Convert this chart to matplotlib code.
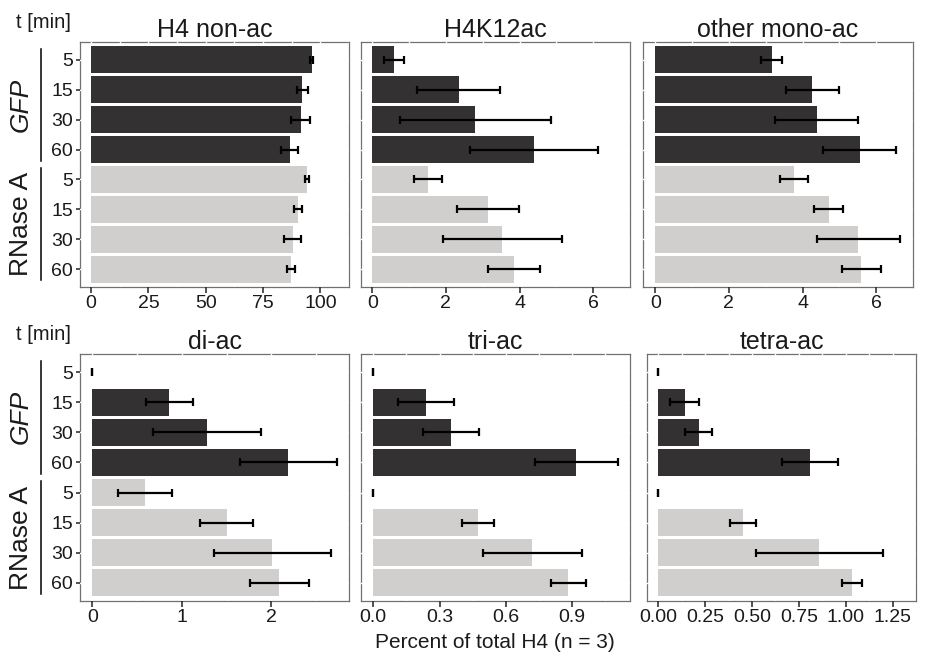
import matplotlib
matplotlib.use("Agg")
import matplotlib.pyplot as plt
import numpy as np

plt.rcParams['font.family'] = ['Liberation Sans', 'DejaVu Sans']

# time points per treatment, top to bottom
times = ["5", "15", "30", "60"]
groups = ["GFP", "RNase A"]

panels = ["H4 non-ac", "H4K12ac", "other mono-ac", "di-ac", "tri-ac", "tetra-ac"]

# mean percent of total H4 (GFP 5,15,30,60 then RNase A 5,15,30,60)
h4_nonac_mean = [96.2, 92.2, 91.4, 86.7, 94.2, 90.2, 87.9, 87.1]
h4_nonac_sd = [0.7, 2.6, 4.0, 3.7, 1.0, 1.8, 3.7, 1.7]
h4k12ac_mean = [0.59, 2.35, 2.80, 4.40, 1.50, 3.15, 3.53, 3.85]
h4k12ac_sd = [0.28, 1.13, 2.05, 1.74, 0.38, 0.84, 1.62, 0.70]
mono_mean = [3.16, 4.27, 4.38, 5.55, 3.78, 4.71, 5.52, 5.60]
mono_sd = [0.29, 0.73, 1.14, 1.00, 0.38, 0.40, 1.12, 0.53]
diac_mean = [0.0, 0.86, 1.28, 2.19, 0.59, 1.50, 2.01, 2.09]
diac_sd = [0.0, 0.26, 0.60, 0.54, 0.30, 0.30, 0.65, 0.33]
triac_mean = [0.0, 0.238, 0.352, 0.919, 0.0, 0.472, 0.720, 0.883]
triac_sd = [0.0, 0.128, 0.125, 0.187, 0.0, 0.072, 0.223, 0.080]
tetra_mean = [0.0, 0.142, 0.215, 0.810, 0.0, 0.454, 0.859, 1.033]
tetra_sd = [0.0, 0.077, 0.072, 0.148, 0.0, 0.070, 0.340, 0.052]

means = [h4_nonac_mean, h4k12ac_mean, mono_mean, diac_mean, triac_mean, tetra_mean]
sds = [h4_nonac_sd, h4k12ac_sd, mono_sd, diac_sd, triac_sd, tetra_sd]

x_ticks = [
    [0, 25, 50, 75, 100],
    [0, 2, 4, 6],
    [0, 2, 4, 6],
    [0, 1, 2],
    [0.0, 0.3, 0.6, 0.9],
    [0.0, 0.25, 0.5, 0.75, 1.0, 1.25],
]
x_ticklabels = [
    ["0", "25", "50", "75", "100"],
    ["0", "2", "4", "6"],
    ["0", "2", "4", "6"],
    ["0", "1", "2"],
    ["0.0", "0.3", "0.6", "0.9"],
    ["0.00", "0.25", "0.50", "0.75", "1.00", "1.25"],
]

dark = "#333131"
light = "#d1cfce"
colors = [dark] * 4 + [light] * 4
txt = "#1a1a1a"

W, H = 939, 655
fig = plt.figure(figsize=(W / 100, H / 100), dpi=100)

# panel boxes in pixels: (left, top, right, bottom)
boxes = [
    (80, 42, 349, 287), (361, 42, 630, 287), (643, 42, 913, 287),
    (80, 354, 349, 601), (361, 354, 630, 601), (647, 354, 916, 601),
]

n = len(colors)
ypos = np.arange(n)
y_lo, y_hi = n - 0.4, -0.6

for i, (name, m, s) in enumerate(zip(panels, means, sds)):
    l, t, r, b = boxes[i]
    ax = fig.add_axes([l / W, 1 - b / H, (r - l) / W, (b - t) / H])
    m = np.array(m)
    s = np.array(s)
    ax.barh(ypos, m, height=0.9, color=colors, zorder=1)
    ax.errorbar(m, ypos, xerr=s, fmt="none", ecolor="black",
                elinewidth=1.6, capsize=2.6, capthick=1.6, zorder=3)
    top = float(np.max(m + s))
    ax.set_xlim(-0.05 * top, top * 1.05)
    ax.set_ylim(y_lo, y_hi)
    ax.set_xticks(x_ticks[i])
    ax.set_xticklabels(x_ticklabels[i])
    mt = x_ticks[i]
    step = mt[1] - mt[0]
    ax.set_xticks([v + step / 2 for v in mt], minor=True)
    ax.set_yticks(ypos)
    ax.grid(True, which="both", color="white", lw=1.0)
    ax.set_axisbelow(True)
    for sp in ax.spines.values():
        sp.set_color("#707070")
        sp.set_linewidth(0.9)
        sp.set_zorder(0.4)
    ax.tick_params(axis="x", which="major", length=4, width=1.1, color="#222222",
                   labelsize=14, pad=1.5, labelcolor=txt)
    ax.tick_params(axis="x", which="minor", length=0)
    if i % 3 == 0:
        ax.set_yticklabels(times * 2)
        ax.tick_params(axis="y", length=3, width=1.1, color="#222222",
                       labelsize=14, pad=2, labelcolor=txt)
    else:
        ax.set_yticklabels([])
        ax.tick_params(axis="y", length=0)
    ax.set_title(name, fontsize=18, color=txt, pad=3)

    if i % 3 == 0:
        # treatment group brackets and labels
        def ydata_to_px(yv):
            frac = (yv - y_lo) / (y_hi - y_lo)
            return b - frac * (b - t)
        for g, (lo, hi) in enumerate([(0, 3), (4, 7)]):
            y0 = ydata_to_px(lo - 0.38)
            y1 = ydata_to_px(hi + 0.38)
            x_line = 40.7
            fig.add_artist(plt.Line2D([x_line / W, x_line / W],
                                      [1 - y0 / H, 1 - y1 / H],
                                      color="black", lw=1.1))
            yc = (y0 + y1) / 2
            fig.text(21 / W, 1 - yc / H, groups[g], rotation=90,
                     ha="center", va="center", fontsize=19,
                     style="italic" if g == 0 else "normal", color=txt)
        fig.text(43 / W, 1 - (t - 20) / H, "t [min]", ha="center",
                 va="center", fontsize=14.5, color=txt)

fig.text(495 / W, 1 - 643 / H, "Percent of total H4 (n = 3)", ha="center",
         va="center", fontsize=15, color=txt)

fig.savefig("out.png", dpi=100)
